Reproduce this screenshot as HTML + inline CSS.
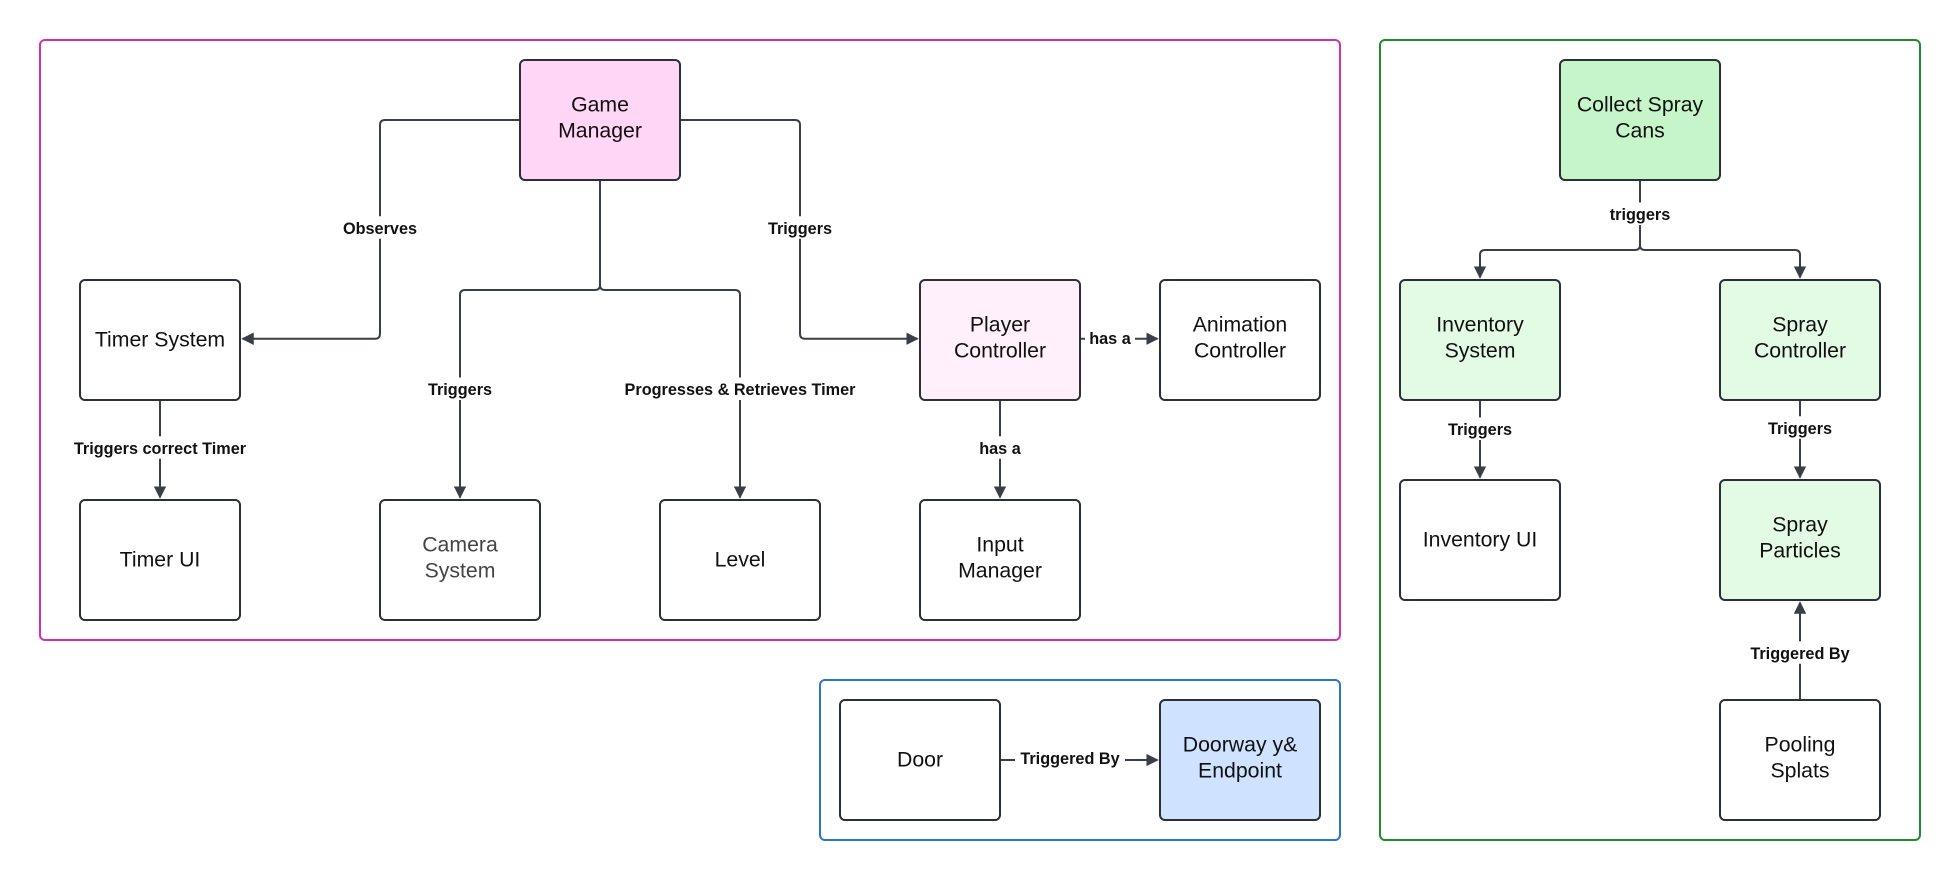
<!DOCTYPE html>
<html><head><meta charset="utf-8"><style>
html,body{margin:0;padding:0;background:#fff;}
svg{display:block;}
.n{font-family:"Liberation Sans",sans-serif;font-size:17px;fill:#111;text-anchor:middle;}
.l{font-family:"Liberation Sans",sans-serif;font-size:13px;font-weight:bold;fill:#111;text-anchor:middle;}
.c{fill:none;stroke:#3a3f47;stroke-width:1.6;}
.b{stroke:#2b2f36;stroke-width:1.6;}
</style></head><body>
<svg width="1960" height="880" viewBox="0 0 1568 704" xmlns="http://www.w3.org/2000/svg">
<defs><marker id="a" markerWidth="10" markerHeight="10" refX="9" refY="5" orient="auto" markerUnits="userSpaceOnUse"><path d="M0,0 L10,5 L0,10 z" fill="#3a3f47"/></marker></defs>
<rect x="32" y="32" width="1040" height="480" rx="4" fill="none" stroke="#d42fb0" stroke-width="1.6"/>
<rect x="1104" y="32" width="432" height="640" rx="4" fill="none" stroke="#1e8c2a" stroke-width="1.6"/>
<rect x="656" y="544" width="416" height="128" rx="4" fill="none" stroke="#2a74d4" stroke-width="1.6"/>

<g class="c">
<path d="M416 96 H308 Q304 96 304 100 V267 Q304 271 300 271 H194" marker-end="url(#a)"/>
<path d="M544 96 H636 Q640 96 640 100 V267 Q640 271 644 271 H734" marker-end="url(#a)"/>
<path d="M480 144 V228 Q480 232 476 232 H372 Q368 232 368 236 V398" marker-end="url(#a)"/>
<path d="M480 228 Q480 232 484 232 H588 Q592 232 592 236 V398" marker-end="url(#a)"/>
<path d="M128 320 V398" marker-end="url(#a)"/>
<path d="M864 271 H926" marker-end="url(#a)"/>
<path d="M800 320 V398" marker-end="url(#a)"/>
<path d="M800 608 H926" marker-end="url(#a)"/>
<path d="M1312 144 V196 Q1312 200 1308 200 H1188 Q1184 200 1184 204 V222" marker-end="url(#a)"/>
<path d="M1312 196 Q1312 200 1316 200 H1436 Q1440 200 1440 204 V222" marker-end="url(#a)"/>
<path d="M1184 320 V382" marker-end="url(#a)"/>
<path d="M1440 320 V382" marker-end="url(#a)"/>
<path d="M1440 560 V482" marker-end="url(#a)"/>
</g>

<g class="b">
<rect x="416" y="48" width="128" height="96" rx="4" fill="#ffd6f5"/>
<rect x="64" y="224" width="128" height="96" rx="4" fill="#fff"/>
<rect x="736" y="224" width="128" height="96" rx="4" fill="#fff0fb"/>
<rect x="928" y="224" width="128" height="96" rx="4" fill="#fff"/>
<rect x="64" y="400" width="128" height="96" rx="4" fill="#fff"/>
<rect x="304" y="400" width="128" height="96" rx="4" fill="#fff"/>
<rect x="528" y="400" width="128" height="96" rx="4" fill="#fff"/>
<rect x="736" y="400" width="128" height="96" rx="4" fill="#fff"/>
<rect x="672" y="560" width="128" height="96" rx="4" fill="#fff"/>
<rect x="928" y="560" width="128" height="96" rx="4" fill="#cfe2ff"/>
<rect x="1248" y="48" width="128" height="96" rx="4" fill="#c5f5c9"/>
<rect x="1120" y="224" width="128" height="96" rx="4" fill="#e3fae4"/>
<rect x="1376" y="224" width="128" height="96" rx="4" fill="#e3fae4"/>
<rect x="1120" y="384" width="128" height="96" rx="4" fill="#fff"/>
<rect x="1376" y="384" width="128" height="96" rx="4" fill="#e3fae4"/>
<rect x="1376" y="560" width="128" height="96" rx="4" fill="#fff"/>
</g>

<g class="n">
<text x="480" y="89">Game</text><text x="480" y="110">Manager</text>
<text x="128" y="277">Timer System</text>
<text x="800" y="265">Player</text><text x="800" y="286">Controller</text>
<text x="992" y="265">Animation</text><text x="992" y="286">Controller</text>
<text x="128" y="453">Timer UI</text>
<text x="368" y="441" style="fill:#444">Camera</text><text x="368" y="462" style="fill:#444">System</text>
<text x="592" y="453">Level</text>
<text x="800" y="441">Input</text><text x="800" y="462">Manager</text>
<text x="736" y="613">Door</text>
<text x="992" y="601">Doorway y&amp;</text><text x="992" y="622">Endpoint</text>
<text x="1312" y="89">Collect Spray</text><text x="1312" y="110">Cans</text>
<text x="1184" y="265">Inventory</text><text x="1184" y="286">System</text>
<text x="1440" y="265">Spray</text><text x="1440" y="286">Controller</text>
<text x="1184" y="437">Inventory UI</text>
<text x="1440" y="425">Spray</text><text x="1440" y="446">Particles</text>
<text x="1440" y="601">Pooling</text><text x="1440" y="622">Splats</text>
</g>

<g>
<rect x="270" y="173" width="68" height="18" fill="#fff"/>
<rect x="610" y="173" width="60" height="18" fill="#fff"/>
<rect x="338" y="302" width="60" height="18" fill="#fff"/>
<rect x="490" y="302" width="204" height="18" fill="#fff"/>
<rect x="52" y="349" width="152" height="18" fill="#fff"/>
<rect x="868" y="262" width="40" height="18" fill="#fff"/>
<rect x="780" y="349" width="40" height="18" fill="#fff"/>
<rect x="812" y="597" width="88" height="18" fill="#fff"/>
<rect x="1284" y="162" width="56" height="18" fill="#fff"/>
<rect x="1154" y="334" width="60" height="18" fill="#fff"/>
<rect x="1410" y="333" width="60" height="18" fill="#fff"/>
<rect x="1394" y="513" width="92" height="18" fill="#fff"/>
</g>
<g class="l">
<text x="304" y="187">Observes</text>
<text x="640" y="187">Triggers</text>
<text x="368" y="316">Triggers</text>
<text x="592" y="316">Progresses &amp; Retrieves Timer</text>
<text x="128" y="363">Triggers correct Timer</text>
<text x="888" y="275">has a</text>
<text x="800" y="363">has a</text>
<text x="856" y="611">Triggered By</text>
<text x="1312" y="176">triggers</text>
<text x="1184" y="348">Triggers</text>
<text x="1440" y="347">Triggers</text>
<text x="1440" y="527">Triggered By</text>
</g>
</svg>
</body></html>
